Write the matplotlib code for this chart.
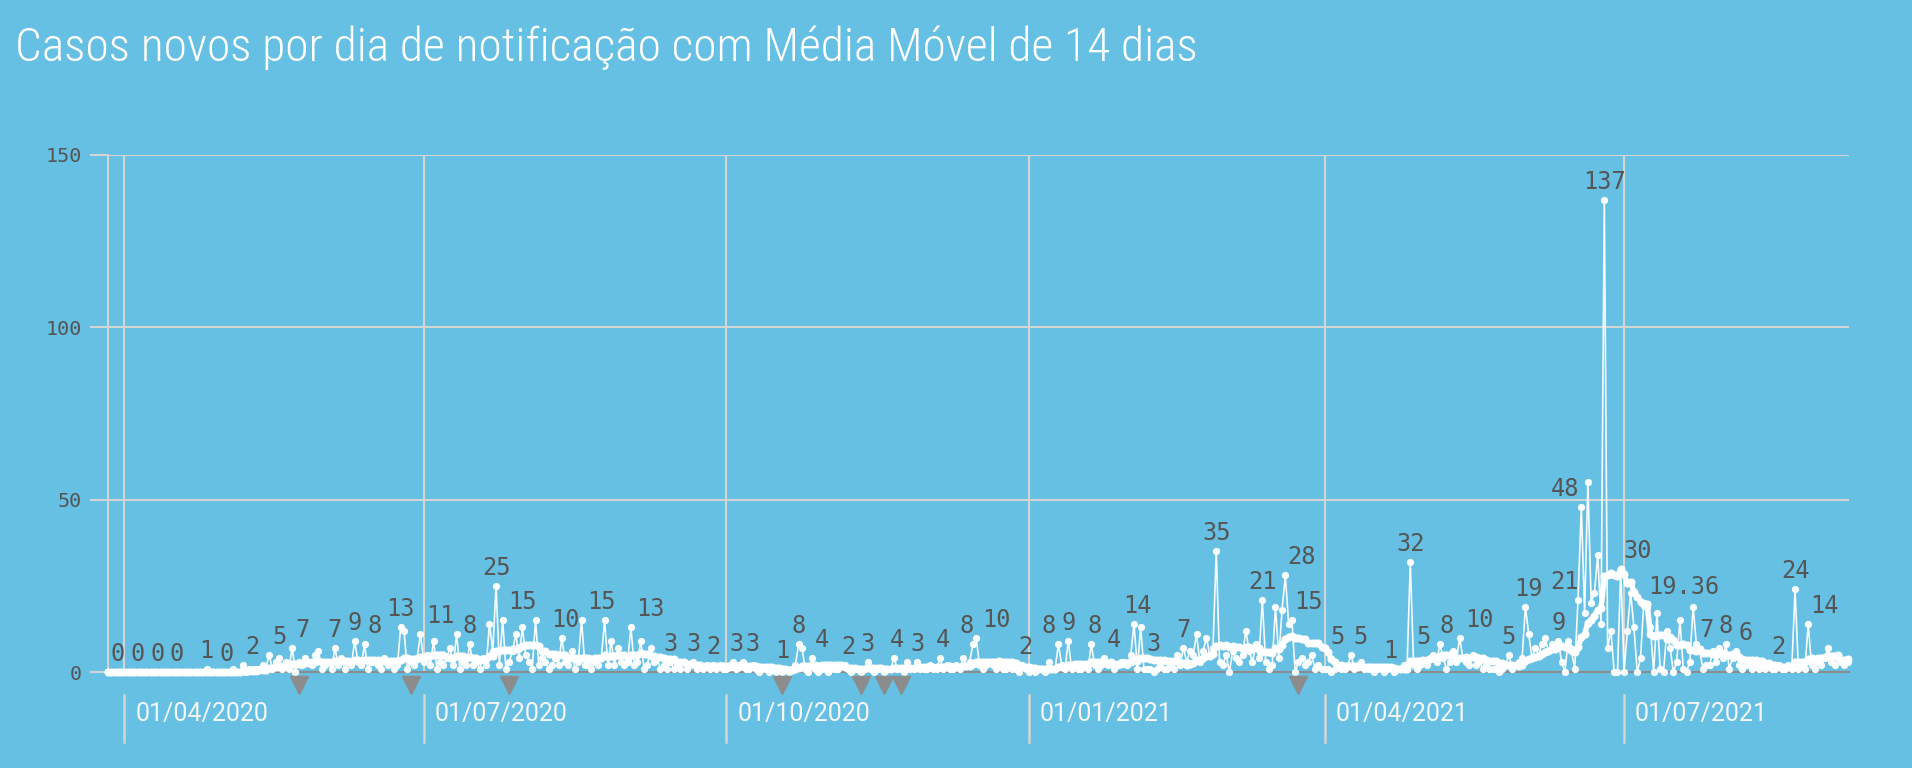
import numpy as np
import pandas as pd
import matplotlib
matplotlib.use('Agg')
import matplotlib.pyplot as plt
import matplotlib.dates as mdates
from matplotlib import font_manager

# casos novos por dia de notificação, a partir de 27/03/2020
start_date = '2020-03-27'
mar_2020 = [0, 0, 0, 0, 0]
apr_2020 = [0, 0, 0, 0, 0, 0, 0, 0, 0, 0, 0, 0, 0, 0, 0,
            0, 0, 0, 0, 0, 0, 0, 0, 0, 0, 1, 0, 0, 0, 0]
may_2020 = [0, 0, 0, 1, 0, 0, 2, 0, 1, 1, 1, 1, 2, 1, 5,
            1, 3, 4, 1, 3, 1, 7, 0, 3, 2, 4, 3, 2, 5, 6, 1]
jun_2020 = [2, 3, 1, 7, 2, 4, 1, 3, 2, 9, 3, 2, 8, 1, 3,
            3, 2, 1, 4, 2, 3, 1, 2, 13, 12, 1, 3, 2, 4, 11]
jul_2020 = [3, 5, 2, 9, 1, 3, 2, 4, 7, 2, 11, 1, 3, 2, 8,
            2, 3, 1, 4, 2, 14, 6, 25, 2, 15, 1, 3, 6, 11, 4, 13]
aug_2020 = [5, 3, 1, 15, 2, 4, 3, 1, 2, 4, 2, 10, 3, 2, 6,
            1, 3, 15, 2, 2, 1, 3, 2, 4, 15, 2, 9, 2, 7, 3, 2]
sep_2020 = [3, 13, 2, 3, 9, 1, 2, 7, 3, 4, 1, 2, 1, 3, 1,
            2, 1, 3, 1, 2, 3, 1, 2, 1, 2, 1, 2, 1, 2, 1]
oct_2020 = [1, 2, 3, 1, 2, 3, 1, 1, 2, 1, 0, 1, 1, 0, 1,
            0, 1, 0, 1, 0, 1, 2, 8, 7, 1, 0, 4, 1, 0, 1, 1]
nov_2020 = [0, 1, 1, 1, 2, 2, 1, 0, 1, 1, 0, 1, 3, 1, 0,
            1, 1, 0, 1, 1, 4, 1, 1, 0, 3, 1, 1, 3, 1, 1]
dec_2020 = [1, 2, 1, 1, 4, 1, 2, 1, 1, 2, 1, 4, 2, 3, 8,
            10, 2, 1, 2, 3, 2, 1, 2, 1, 1, 2, 1, 1, 0, 2, 1]
jan_2021 = [0, 1, 0, 1, 1, 0, 3, 1, 1, 8, 2, 1, 9, 1, 2,
            1, 1, 2, 1, 8, 2, 1, 2, 4, 2, 3, 1, 2, 3, 3, 2]
feb_2021 = [5, 14, 1, 13, 1, 1, 1, 0, 1, 2, 1, 1, 2, 1,
            5, 2, 7, 3, 6, 5, 11, 3, 6, 10, 5, 7, 35, 3]
mar_2021 = [2, 5, 0, 6, 4, 3, 5, 12, 6, 3, 8, 4, 21, 3, 1,
            2, 19, 4, 18, 28, 14, 15, 0, 3, 4, 2, 3, 5, 1, 2, 1]
apr_2021 = [1, 1, 0, 1, 2, 1, 1, 2, 5, 1, 2, 3, 1, 1, 1,
            0, 1, 1, 0, 1, 1, 0, 1, 1, 2, 1, 32, 2, 1, 2]
may_2021 = [3, 2, 4, 5, 3, 8, 4, 1, 3, 6, 3, 10, 4, 3, 2,
            5, 2, 3, 1, 2, 1, 1, 1, 0, 1, 2, 5, 1, 2, 3, 4]
jun_2021 = [19, 11, 4, 7, 5, 8, 10, 6, 8, 7, 9, 3, 0, 9, 6,
            1, 21, 48, 17, 55, 20, 23, 34, 14, 137, 7, 12, 0, 0, 30]
jul_2021 = [0, 12, 23, 13, 0, 4, 20, 19, 13, 0, 17, 1, 0, 12, 7,
            0, 3, 15, 1, 0, 3, 19, 8, 6, 1, 2, 2, 6, 3, 7, 4]
aug_2021 = [8, 1, 4, 6, 2, 1, 2, 2, 1, 2, 1, 2, 1, 2, 1,
            1, 2, 1, 1, 2, 1, 24, 1, 2, 1, 14, 2, 1, 3, 2, 4]
sep_2021 = [7, 3, 2, 4, 3, 2, 3]

# rótulos de valor mostrados no gráfico
label_dates = ['2020-03-30', '2020-04-05', '2020-04-11', '2020-04-17', '2020-04-26',
               '2020-05-02', '2020-05-10', '2020-05-18', '2020-05-25', '2020-06-04',
               '2020-06-10', '2020-06-16', '2020-06-24', '2020-07-06', '2020-07-15',
               '2020-07-23', '2020-07-31', '2020-08-13', '2020-08-24', '2020-09-08',
               '2020-09-14', '2020-09-21', '2020-09-27', '2020-10-04', '2020-10-09',
               '2020-10-18', '2020-10-23', '2020-10-30', '2020-11-07', '2020-11-13',
               '2020-11-22', '2020-11-28', '2020-12-06', '2020-12-13', '2020-12-22',
               '2020-12-31', '2021-01-07', '2021-01-13', '2021-01-21', '2021-01-27',
               '2021-02-03', '2021-02-08', '2021-02-17', '2021-02-27', '2021-03-13',
               '2021-03-25', '2021-03-27', '2021-04-05', '2021-04-12', '2021-04-21',
               '2021-04-27', '2021-05-01', '2021-05-08', '2021-05-18', '2021-05-27',
               '2021-06-02', '2021-06-11', '2021-06-13', '2021-06-13', '2021-06-25',
               '2021-07-05', '2021-07-19', '2021-07-26', '2021-08-01', '2021-08-07',
               '2021-08-17', '2021-08-22', '2021-08-31']
label_values = [0, 0, 0, 0, 1, 0, 2, 5, 7, 7, 9, 8, 13, 11, 8, 25, 15, 10, 15, 13,
                3, 3, 2, 3, 3, 1, 8, 4, 2, 3, 4, 3, 4, 8, 10, 2, 8, 9, 8, 4,
                14, 3, 7, 35, 21, 28, 15, 5, 5, 1, 32, 5, 8, 10, 5, 19, 9, 21, 48, 137,
                30, 19.36, 7, 8, 6, 2, 24, 14]

# marcadores (triângulos) abaixo do eixo
event_dates = ['2020-05-24', '2020-06-27', '2020-07-27', '2020-10-18',
               '2020-11-11', '2020-11-18', '2020-11-23', '2021-03-24']

tick_dates = ['2020-04-01', '2020-07-01', '2020-10-01', '2021-01-01', '2021-04-01', '2021-07-01']
tick_labels = ['01/04/2020', '01/07/2020', '01/10/2020', '01/01/2021', '01/04/2021', '01/07/2021']

title = 'Casos novos por dia de notificação com Média Móvel de 14 dias'

daily = (mar_2020 + apr_2020 + may_2020 + jun_2020 + jul_2020 + aug_2020 + sep_2020
         + oct_2020 + nov_2020 + dec_2020 + jan_2021 + feb_2021 + mar_2021 + apr_2021
         + may_2021 + jun_2021 + jul_2021 + aug_2021 + sep_2021)
dates = pd.date_range(start_date, periods=len(daily), freq='D')
cases = pd.Series(daily, index=dates, dtype=float)
media_movel = cases.rolling(14, min_periods=1).mean()

xnum = mdates.date2num(dates.to_pydatetime())
tick_x = mdates.date2num(pd.to_datetime(tick_dates).to_pydatetime())
event_x = mdates.date2num(pd.to_datetime(event_dates).to_pydatetime())
label_x = mdates.date2num(pd.to_datetime(label_dates).to_pydatetime())

BG = '#65c0e4'
GRID = '#d4d4d4'
DARK = '#555555'


def _weight(f):
    w = f.weight
    if isinstance(w, str):
        w = {'ultralight': 200, 'light': 300, 'normal': 400, 'regular': 400,
             'medium': 500}.get(w, 400)
    return w


def condensed_font():
    """Procura uma fonte estreita (de preferência leve) para o título."""
    fonts = [f for f in font_manager.fontManager.ttflist if f.style == 'normal']
    for name in ['Roboto Condensed', 'Open Sans Condensed', 'Liberation Sans Narrow',
                 'Noto Sans Condensed', 'DejaVu Sans Condensed']:
        found = [f for f in fonts if f.name == name and _weight(f) >= 300]
        if found:
            best = min(found, key=_weight)
            return font_manager.FontProperties(fname=best.fname)
    for f in fonts:
        if f.stretch not in ('normal', 500, 'medium') and 'CJK' not in f.name:
            return font_manager.FontProperties(fname=f.fname)
    return font_manager.FontProperties(family='DejaVu Sans')


fig = plt.figure(figsize=(19.12, 7.68), dpi=100, facecolor=BG)
ax = fig.add_axes([108 / 1912, 96 / 768, 1741 / 1912, 517 / 768])
ax.set_facecolor(BG)

# séries
ax.plot(xnum, cases.values, color='white', lw=1.2, alpha=0.95,
        marker='o', ms=4.2, zorder=3, clip_on=False)
ax.plot(xnum, media_movel.values, color='white', lw=4, marker='o', ms=4.8,
        zorder=4, clip_on=False)

# eixos e grade
ax.set_ylim(0, 150)
ax.set_xlim(xnum[0], xnum[-1] + 0.4)
ax.set_yticks([0, 50, 100, 150])
ax.set_xticks(tick_x)
ax.grid(True, color=GRID, lw=1.5)
ax.set_axisbelow(True)
ax.tick_params(axis='x', length=0, labelbottom=False)
ax.tick_params(axis='y', length=13, width=1.5, color=GRID, pad=6,
               labelsize=14.5, labelcolor=DARK)
for lbl in ax.get_yticklabels():
    lbl.set_fontfamily('DejaVu Sans Mono')
for side in ['top', 'right']:
    ax.spines[side].set_visible(False)
ax.spines['left'].set_color(GRID)
ax.spines['left'].set_linewidth(1.5)
ax.spines['bottom'].set_color('#8c8c8c')
ax.spines['bottom'].set_linewidth(1.5)

# marcas e rótulos de data abaixo do eixo
xtrans = ax.get_xaxis_transform()
for x, lab in zip(tick_x, tick_labels):
    ax.plot([x, x], [-0.045, -0.135], transform=xtrans, color=GRID, lw=1.8, clip_on=False)
    ax.annotate(lab, xy=(x, 0), xycoords=xtrans, xytext=(11, -42),
                textcoords='offset pixels', ha='left', va='center',
                color='#f4f6f8', fontsize=18, family='Roboto')

ax.plot(event_x, [-0.026] * len(event_x), transform=xtrans, ls='none', marker='v',
        ms=12.5, color='#8c8c8c', clip_on=False, zorder=5)

# rótulos de valor
for x, v in zip(label_x, label_values):
    ax.annotate(f'{v:g}', xy=(x, v), xytext=(0, 18), textcoords='offset pixels',
                ha='center', va='center', family='DejaVu Sans Mono', fontsize=17,
                color=DARK, zorder=6, annotation_clip=False)

# título: ajusta o tamanho para ocupar a mesma largura do original
tprop = condensed_font()
tsize = 42
ttl = fig.text(15 / 1912, 1 - 48 / 768, title, ha='left', va='center', color='white',
               fontproperties=tprop, fontsize=tsize)
fig.canvas.draw()
width = ttl.get_window_extent().width
ttl.set_fontsize(min(46, tsize * 1183 / width))

fig.savefig('out.png', dpi=100, facecolor=BG)
